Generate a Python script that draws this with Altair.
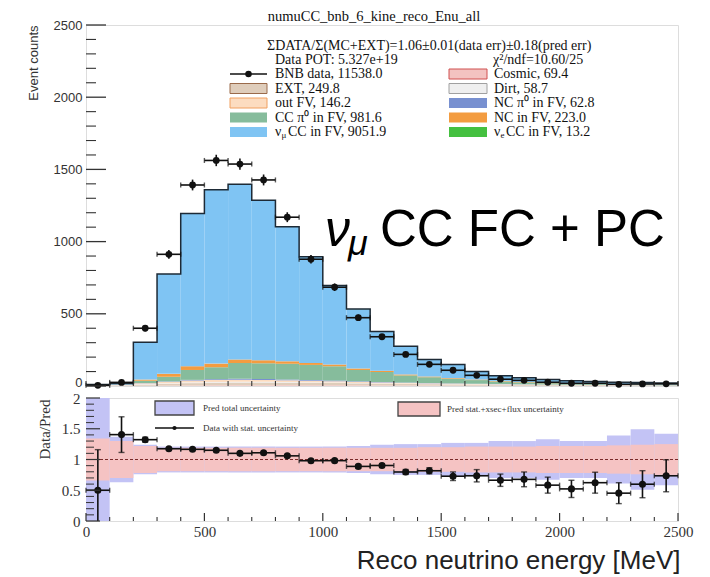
import altair as alt
import pandas as pd
import numpy as np

SERIF = "Liberation Serif"
SANS = "Liberation Sans"

# ---------------- data ----------------
bin_lo = [0, 100, 200, 300, 400, 500, 600, 700, 800, 900, 1000, 1100, 1200,
          1300, 1400, 1500, 1600, 1700, 1800, 1900, 2000, 2100, 2200, 2300, 2400]
bin_hi = [100, 200, 300, 400, 500, 600, 700, 800, 900, 1000, 1100, 1200, 1300,
          1400, 1500, 1600, 1700, 1800, 1900, 2000, 2100, 2200, 2300, 2400, 2500]

data_counts = [5, 25, 400, 912, 1392, 1562, 1537, 1427, 1169, 878, 684, 473, 341,
               219, 150, 109, 74, 47, 39, 26, 19, 19, 12, 14, 15]

cosmic = [0.5, 1, 2, 3, 4, 5, 5.5, 5.5, 5.5, 5, 5, 4.5, 4, 3.5, 3, 2.5, 2, 1.8, 1.5, 1.2, 1, 0.8, 0.7, 0.6, 0.5]
ext = [3, 4, 8, 12, 16, 18, 19, 19, 18, 17, 16, 14, 12, 11, 10, 9, 8, 7, 6, 5.5, 5, 4.5, 4, 3.5, 3]
dirt = [1, 1.5, 3, 4, 5, 5, 5, 4.5, 4, 3.5, 3, 2.5, 2.2, 2, 1.8, 1.6, 1.4, 1.2, 1, 0.9, 0.8, 0.7, 0.6, 0.5, 0.5]
outfv = [0.5, 1, 6, 10, 13, 14, 14, 13, 12, 11, 9, 8, 6.5, 5, 4, 3.5, 3, 2.5, 2, 1.8, 1.5, 1.3, 1.1, 1, 0.9]
ncpi0 = [0, 0.3, 1.5, 3, 4.5, 5.5, 6, 6, 5.5, 5, 4.5, 4, 3, 2.5, 2, 1.8, 1.5, 1.2, 1, 0.8, 0.6, 0.5, 0.4, 0.3, 0.3]
ccpi0 = [0.5, 1, 16, 32, 68.5, 82.5, 110.5, 110, 109, 104.5, 99.5, 78, 69.3, 49.5, 40, 32, 25, 18, 13.5, 9.3, 7, 5.4, 4.6, 3.7, 3.6]
nc = [0.5, 1, 8, 20, 26, 25, 23, 20, 17, 14, 12, 10, 8, 6.5, 5, 4.5, 4, 3.5, 3, 2.5, 2, 1.8, 1.6, 1.4, 1.2]
numucc = [4, 8, 258, 692, 1057, 1203, 1214, 1108, 932, 735, 547, 411, 272, 194, 117, 94, 55, 35, 29, 22, 18, 15, 13, 12, 10]
nuecc = [0, 0, 0, 0.1, 0.2, 0.3, 0.4, 0.5, 0.6, 0.7, 0.8, 0.8, 0.8, 0.8, 0.8, 0.8, 0.7, 0.7, 0.6, 0.6, 0.5, 0.5, 0.5, 0.4, 0.4]

ratio_err = [0.66, 0.29, 0.04, 0.02, 0.02, 0.02, 0.02, 0.02, 0.02, 0.02, 0.02, 0.03, 0.03,
             0.04, 0.05, 0.07, 0.10, 0.10, 0.12, 0.13, 0.14, 0.17, 0.17, 0.22, 0.26]
band_syst = [0.34, 0.30, 0.22, 0.19, 0.19, 0.19, 0.19, 0.19, 0.19, 0.19, 0.19, 0.19, 0.19,
             0.19, 0.20, 0.20, 0.21, 0.21, 0.21, 0.22, 0.22, 0.22, 0.23, 0.24, 0.25]
band_total = [1.5, 0.37, 0.24, 0.21, 0.21, 0.21, 0.21, 0.21, 0.21, 0.21, 0.21, 0.22, 0.24,
              0.25, 0.25, 0.27, 0.27, 0.30, 0.30, 0.33, 0.30, 0.30, 0.39, 0.49, 0.42]

comp_names = ["Cosmic", "EXT", "Dirt", "out FV", "NC π⁰", "CC π⁰", "NC", "νμ CC", "νe CC"]
comp_values = [cosmic, ext, dirt, outfv, ncpi0, ccpi0, nc, numucc, nuecc]
comp_colors = ["#f3c3c1", "#dfcdbb", "#efefef", "#fcdcc0", "#7890d0", "#86bc9c", "#f39c40", "#7fc4f3", "#44c040"]
comp_strokes = ["#d05050", "#9a6a4a", "#a0a0a0", "#f0a060", None, None, None, None, None]

legend_left = ["BNB data", "EXT", "out FV", "CC π⁰ in FV", "νμ CC in FV"]
legend_left_tot = [11538.0, 249.8, 146.2, 981.6, 9051.9]
legend_right = ["Cosmic", "Dirt", "NC π⁰ in FV, ", "NC in FV", "νe CC in FV"]
legend_right_tot = [69.4, 58.7, 62.8, 223.0, 13.2]

title_text = "numuCC_bnb_6_kine_reco_Enu_all"
stats_line = "ΣDATA/Σ(MC+EXT)=1.06±0.01(data err)±0.18(pred err)"
pot_line = "Data POT: 5.327e+19"
chi2_line = "χ²/ndf=10.60/25"

# ---------------- tables ----------------
rows = []
for i in range(len(bin_lo)):
    base = 0.0
    for name, arr in zip(comp_names, comp_values):
        rows.append(dict(lo=bin_lo[i], hi=bin_hi[i], y0=base, y1=base + arr[i], comp=name))
        base += arr[i]
stack_df = pd.DataFrame(rows)

pred = np.sum(np.array(comp_values, dtype=float), axis=0)
d = np.array(data_counts, dtype=float)
bins = pd.DataFrame({
    "lo": bin_lo, "hi": bin_hi,
    "mid": (np.array(bin_lo) + np.array(bin_hi)) / 2,
    "data": d, "dlo": d - np.sqrt(d), "dhi": d + np.sqrt(d),
    "pred": pred,
    "ratio": d / pred,
})
bins["rlo"] = bins["ratio"] - np.array(ratio_err)
bins["rhi"] = bins["ratio"] + np.array(ratio_err)
bins["slo"] = 1 - np.array(band_syst)
bins["shi"] = 1 + np.array(band_syst)
bins["tlo"] = 1 - np.array(band_total)
bins["thi"] = 1 + np.array(band_total)

outline = pd.DataFrame({"x": bin_lo + [bin_hi[-1]], "y": list(pred) + [pred[-1]]})

W, H1, H2 = 592, 361, 123
xs = alt.Scale(domain=[0, 2500], nice=False, zero=False)
ys1 = alt.Scale(domain=[0, 2500], nice=False)
ys2 = alt.Scale(domain=[0, 2], nice=False)

yaxis_top = alt.Axis(values=[0, 500, 1000, 1500, 2000, 2500], format="d", ticks=False, domain=False,
                     grid=False, labelFont=SANS, labelFontSize=13, labelColor="#333", labelPadding=4,
                     labelBaseline=alt.condition("datum.value == 0", alt.value("alphabetic"), alt.value("middle")),
                     title="Event counts", titleFont=SANS, titleFontSize=13, titleFontWeight="normal",
                     titleColor="#333", titleAngle=270, titleAlign="right", titleBaseline="middle",
                     titleX=-53, titleY=0)
yaxis_bot = alt.Axis(values=[0, 0.5, 1, 1.5, 2], format="~g", ticks=False, domain=False, grid=False,
                     labelFont=SERIF, labelFontSize=15, labelColor="#333", labelPadding=6,
                     title="Data/Pred", titleFont=SERIF, titleFontSize=15, titleFontWeight="normal",
                     titleColor="#333", titleAngle=270, titleAlign="right", titleBaseline="middle",
                     titleX=-42, titleY=1)
xaxis_bot = alt.Axis(values=[0, 500, 1000, 1500, 2000, 2500], format="d", ticks=False, domain=False,
                     grid=False, labelFont=SERIF, labelFontSize=15, labelColor="#333", labelPadding=3,
                     labelFlush=False,
                     title="Reco neutrino energy [MeV]", titleFont=SANS, titleFontSize=26,
                     titleFontWeight="normal", titleColor="#222", titleAlign="right",
                     titleBaseline="alphabetic", titleX=W + 2, titleY=47)


def X1(f):
    return alt.X(f, type="quantitative", scale=xs, axis=None)


def Y1(f):
    return alt.Y(f, type="quantitative", scale=ys1, axis=yaxis_top)


def X2(f):
    return alt.X(f, type="quantitative", scale=xs, axis=xaxis_bot)


def Y2(f):
    return alt.Y(f, type="quantitative", scale=ys2, axis=yaxis_bot)


def txt(s, x, y, size=14, font=SERIF, align="left", baseline="middle", style="normal", color="#111"):
    return alt.Chart(pd.DataFrame({"t": [s]})).mark_text(
        align=align, baseline=baseline, font=font, fontSize=size, fontStyle=style, color=color
    ).encode(x=alt.value(x), y=alt.value(y), text="t:N")


def box(x0, x1, y0, y1, fill, stroke=None, sw=1.0):
    kw = dict(fill=fill)
    if stroke:
        kw.update(stroke=stroke, strokeWidth=sw)
    return alt.Chart(pd.DataFrame({"a": [0]})).mark_rect(**kw).encode(
        x=alt.value(x0), x2=alt.value(x1), y=alt.value(y0), y2=alt.value(y1))


def hline(x0, x1, y, color="#111", sw=1.5):
    return alt.Chart(pd.DataFrame({"a": [0]})).mark_rule(color=color, strokeWidth=sw).encode(
        x=alt.value(x0), x2=alt.value(x1), y=alt.value(y))


def dot(x, y, size=40):
    return alt.Chart(pd.DataFrame({"a": [0]})).mark_circle(color="#111", opacity=1, size=size).encode(
        x=alt.value(x), y=alt.value(y))


# ---------------- top panel ----------------
stack = alt.Chart(stack_df).mark_rect().encode(
    x=X1("lo"), x2="hi", y=Y1("y0"), y2="y1",
    color=alt.Color("comp:N", scale=alt.Scale(domain=comp_names, range=comp_colors), legend=None))

outline_l = alt.Chart(outline).mark_line(interpolate="step-after", color="#1d2a36", strokeWidth=1.5).encode(
    x=X1("x"), y=Y1("y"))

base1 = alt.Chart(bins)
herr1 = base1.mark_rule(color="#111", strokeWidth=1.6).encode(x=X1("lo"), x2="hi", y=Y1("data"))
verr1 = base1.mark_rule(color="#111", strokeWidth=1.6).encode(x=X1("mid"), y=Y1("dlo"), y2="dhi")
capl1 = base1.mark_tick(orient="vertical", size=5, thickness=1.4, color="#111").encode(x=X1("lo"), y=Y1("data"))
caph1 = base1.mark_tick(orient="vertical", size=5, thickness=1.4, color="#111").encode(x=X1("hi"), y=Y1("data"))
pts1 = base1.mark_circle(color="#111", opacity=1, size=46).encode(x=X1("mid"), y=Y1("data"))

ytick_vals = pd.DataFrame({"v": list(range(0, 2501, 100))})
ytick_vals["major"] = ytick_vals["v"] % 500 == 0
yt_major = alt.Chart(ytick_vals).transform_filter("datum.major").mark_rule(color="#333", strokeWidth=1.3).encode(
    y=Y1("v"), x=alt.value(0), x2=alt.value(20))
yt_minor = alt.Chart(ytick_vals).transform_filter("!datum.major").mark_rule(color="#333", strokeWidth=1.1).encode(
    y=Y1("v"), x=alt.value(0), x2=alt.value(10))
xtick_vals = pd.DataFrame({"v": list(range(0, 2501, 100))})
xtick_vals["major"] = xtick_vals["v"] % 500 == 0
xt1 = alt.Chart(xtick_vals).mark_rule(color="#333", strokeWidth=1.1).encode(
    x=X1("v"), y=alt.value(H1), y2=alt.value(H1 - 5))

# annotations (pixel positions relative to top plot)
ann = [
    txt(title_text, 288, -4, size=14.5, align="center", baseline="alphabetic"),
    txt(stats_line, 181, 25, size=14, baseline="alphabetic"),
    txt(pot_line, 189, 39, size=14, baseline="alphabetic"),
    txt(chi2_line, 407, 39, size=14, baseline="alphabetic"),
    txt("ν", 239, 221, size=50, font=SANS, style="italic", baseline="alphabetic", color="#000"),
    txt("μ", 262, 230, size=36, font=SANS, style="italic", baseline="alphabetic", color="#000"),
    txt("CC FC + PC", 294, 221, size=51, font=SANS, baseline="alphabetic", color="#000"),
]

row_y = [49, 63.5, 78, 92.5, 107]
leg = []
LX0, LX1, LT = 144, 181, 189
RX0, RX1, RT = 363, 401, 408
leg.append(hline(LX0, LX1, row_y[0]))
leg.append(dot((LX0 + LX1) / 2, row_y[0], 42))
leg.append(txt(f"{legend_left[0]}, {legend_left_tot[0]:.1f}", LT, row_y[0]))
left_ci = [None, 1, 3, 5, 7]
for r in range(1, 5):
    ci = left_ci[r]
    leg.append(box(LX0, LX1, row_y[r] - 5, row_y[r] + 5, comp_colors[ci], comp_strokes[ci]))
for r in range(1, 4):
    leg.append(txt(f"{legend_left[r]}, {legend_left_tot[r]:.1f}", LT, row_y[r]))
leg.append(txt("ν", LT, row_y[4]))
leg.append(txt("μ", LT + 6.5, row_y[4] + 3, size=9))
leg.append(txt(f"CC in FV, {legend_left_tot[4]:.1f}", LT + 13, row_y[4]))
right_ci = [0, 2, 4, 6, 8]
for r in range(5):
    ci = right_ci[r]
    leg.append(box(RX0, RX1, row_y[r] - 5, row_y[r] + 5, comp_colors[ci], comp_strokes[ci]))
for r in range(4):
    sep = ", " if not legend_right[r].endswith(", ") else " "
    leg.append(txt(f"{legend_right[r]}{sep}{legend_right_tot[r]:.1f}", RT, row_y[r]))
leg.append(txt("ν", RT, row_y[4]))
leg.append(txt("e", RT + 6.5, row_y[4] + 3, size=9))
leg.append(txt(f"CC in FV, {legend_right_tot[4]:.1f}", RT + 12, row_y[4]))

top = alt.layer(stack, outline_l, herr1, verr1, capl1, caph1, pts1, yt_major, yt_minor, xt1,
                *ann, *leg).properties(width=W, height=H1)

# ---------------- bottom panel ----------------
base2 = alt.Chart(bins)
blue = base2.mark_rect(color="#c3c3f5", clip=True).encode(x=X2("lo"), x2="hi", y=Y2("tlo"), y2="thi")
pink = base2.mark_rect(color="#f5c3c3", clip=True).encode(x=X2("lo"), x2="hi", y=Y2("slo"), y2="shi")
one = alt.Chart(pd.DataFrame({"v": [1]})).mark_rule(color="#7a2a2a", strokeDash=[3, 2], strokeWidth=1.2).encode(
    y=Y2("v"))
herr2 = base2.mark_rule(color="#111", strokeWidth=1.6).encode(x=X2("lo"), x2="hi", y=Y2("ratio"))
verr2 = base2.mark_rule(color="#111", strokeWidth=1.6, clip=True).encode(x=X2("mid"), y=Y2("rlo"), y2="rhi")
capl2 = base2.mark_tick(orient="vertical", size=5, thickness=1.4, color="#111").encode(x=X2("lo"), y=Y2("ratio"))
caph2 = base2.mark_tick(orient="vertical", size=5, thickness=1.4, color="#111").encode(x=X2("hi"), y=Y2("ratio"))
capv_lo = base2.mark_tick(orient="horizontal", size=6, thickness=1.4, color="#111", clip=True).encode(
    x=X2("mid"), y=Y2("rlo"))
capv_hi = base2.mark_tick(orient="horizontal", size=6, thickness=1.4, color="#111", clip=True).encode(
    x=X2("mid"), y=Y2("rhi"))
pts2 = base2.mark_circle(color="#111", opacity=1, size=50).encode(x=X2("mid"), y=Y2("ratio"))

rt = pd.DataFrame({"v": [round(0.1 * k, 2) for k in range(0, 21)]})
rt["major"] = (rt["v"] * 2).round(6) % 1 == 0
rt_major = alt.Chart(rt).transform_filter("datum.major").mark_rule(color="#333", strokeWidth=1.2).encode(
    y=Y2("v"), x=alt.value(0), x2=alt.value(14))
rt_minor = alt.Chart(rt).transform_filter("!datum.major").mark_rule(color="#333", strokeWidth=1.0).encode(
    y=Y2("v"), x=alt.value(0), x2=alt.value(8))
xt2_minor = alt.Chart(xtick_vals).transform_filter("!datum.major").mark_rule(color="#333", strokeWidth=1.1).encode(
    x=X2("v"), y=alt.value(H2), y2=alt.value(H2 - 4))
xt2_major = alt.Chart(xtick_vals).transform_filter("datum.major").mark_rule(color="#333", strokeWidth=1.2).encode(
    x=X2("v"), y=alt.value(H2), y2=alt.value(H2 - 8))

leg2 = [
    box(69, 108, 3, 17, "#c3c3f5", "#444", 1.3),
    txt("Pred total uncertainty", 117, 10, size=9, color="#333"),
    hline(69, 108, 30, sw=1.4),
    dot(88.5, 30, 18),
    txt("Data with stat. uncertainty", 117, 30, size=9, color="#333"),
    box(312, 354, 4, 18, "#f5c3c3", "#444", 1.3),
    txt("Pred stat.+xsec+flux uncertainty", 361, 11, size=9, color="#333"),
]

bottom = alt.layer(blue, pink, one, herr2, verr2, capl2, caph2, capv_lo, capv_hi, pts2,
                   rt_major, rt_minor, xt2_minor, xt2_major, *leg2).properties(width=W, height=H2)

chart = alt.vconcat(top, bottom, spacing=12, bounds="flush").properties(
    padding={"left": 18, "top": 0, "right": 5, "bottom": 0}
).configure_view(stroke="#333", strokeWidth=2).configure(background="white")

chart.save("out.html", embed_options={"renderer": "svg", "actions": False})
